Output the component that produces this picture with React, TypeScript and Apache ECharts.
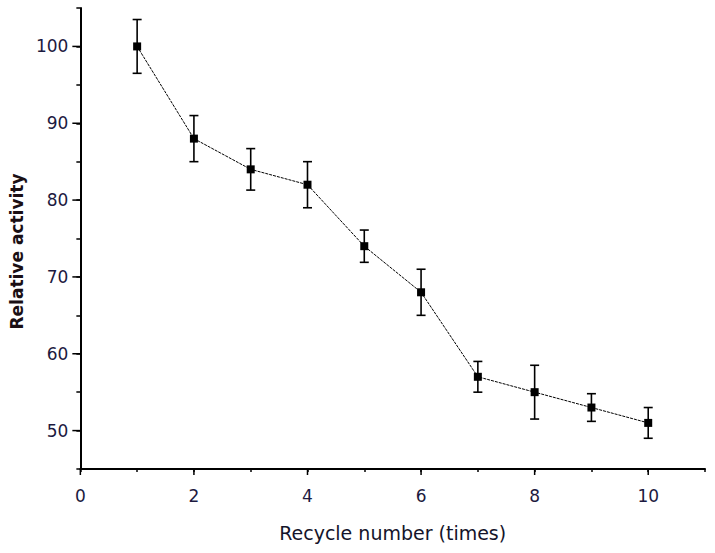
import React, { useEffect, useRef } from "react";
import * as echarts from "echarts";

const cycles = [1, 2, 3, 4, 5, 6, 7, 8, 9, 10];
const activity = [100, 88, 84, 82, 74, 68, 57, 55, 53, 51];
const errors = [3.5, 3, 2.7, 3, 2.1, 3, 2, 3.5, 1.8, 2];
const yLabelValues = [50, 60, 70, 80, 90, 100];
const xLabelValues = [0, 2, 4, 6, 8, 10];

const X_MIN = 0;
const X_MAX = 11;
const Y_MIN = 45;
const Y_MAX = 105;

export default function App() {
  const ref = useRef<HTMLDivElement>(null);
  useEffect(() => {
    if (!ref.current) return;
    const chart = echarts.init(ref.current, null, { renderer: "svg" });
    const labelColor = "#1c1a40";
    const font = "'DejaVu Sans', Verdana, sans-serif";
    const errData = cycles.map((c, i) => [c, activity[i] - errors[i], activity[i] + errors[i]]);
    const tickStyle = { stroke: "#000", lineWidth: 1.5 };
    chart.setOption({
      animation: false,
      grid: { left: 79, top: 8, right: 10, bottom: 84, containLabel: false },
      xAxis: {
        type: "value",
        min: X_MIN,
        max: X_MAX,
        interval: 1,
        name: "Recycle number (times)",
        nameLocation: "middle",
        nameGap: 54,
        nameTextStyle: { fontFamily: font, fontSize: 19, color: "#14142a" },
        axisLine: { show: true, onZero: false, lineStyle: { color: "#000", width: 2 } },
        axisTick: { show: true, inside: false, length: 3, lineStyle: { color: "#000", width: 1.5 } },
        axisLabel: {
          show: true,
          margin: 18,
          fontFamily: font,
          fontSize: 17,
          color: labelColor,
          formatter: (v: number) => (xLabelValues.includes(v) ? String(v) : ""),
        },
        splitLine: { show: false },
      },
      yAxis: {
        type: "value",
        min: Y_MIN,
        max: Y_MAX,
        interval: 5,
        name: "Relative activity",
        nameLocation: "middle",
        nameGap: 51,
        nameTextStyle: { fontFamily: font, fontSize: 17, fontWeight: "bold", color: "#1a0f14", padding: [0, 26, 0, 0] },
        axisLine: { show: true, onZero: false, lineStyle: { color: "#000", width: 2 } },
        axisTick: { show: true, inside: false, length: 4, lineStyle: { color: "#000", width: 1.5 } },
        axisLabel: {
          show: true,
          margin: 12,
          fontFamily: font,
          fontSize: 17,
          color: labelColor,
          formatter: (v: number) => (yLabelValues.includes(v) ? String(v) : ""),
        },
        splitLine: { show: false },
      },
      series: [
        {
          type: "line",
          data: cycles.map((c, i) => [c, activity[i]]),
          symbol: "rect",
          symbolSize: 8,
          itemStyle: { color: "#000" },
          lineStyle: { color: "#000", width: 1, type: [3, 1] },
          z: 3,
        },
        {
          type: "custom",
          data: errData,
          z: 2,
          renderItem: (params: any, api: any) => {
            const x = api.value(0);
            const lo = api.coord([x, api.value(1)]);
            const hi = api.coord([x, api.value(2)]);
            const half = 4.5;
            const st = { stroke: "#000", lineWidth: 1.6 };
            return {
              type: "group",
              children: [
                { type: "line", shape: { x1: lo[0], y1: lo[1], x2: hi[0], y2: hi[1] }, style: st },
                { type: "line", shape: { x1: lo[0] - half, y1: lo[1], x2: lo[0] + half, y2: lo[1] }, style: st },
                { type: "line", shape: { x1: hi[0] - half, y1: hi[1], x2: hi[0] + half, y2: hi[1] }, style: st },
              ],
            };
          },
        },
        {
          // major ticks on the y axis (longer)
          type: "custom",
          clip: false,
          silent: true,
          data: yLabelValues.map((v) => [X_MIN, v]),
          z: 4,
          renderItem: (params: any, api: any) => {
            const p = api.coord([api.value(0), api.value(1)]);
            return { type: "line", shape: { x1: p[0] - 8, y1: p[1], x2: p[0], y2: p[1] }, style: tickStyle };
          },
        },
        {
          // major ticks on the x axis (longer)
          type: "custom",
          clip: false,
          silent: true,
          data: xLabelValues.map((v) => [v, Y_MIN]),
          z: 4,
          renderItem: (params: any, api: any) => {
            const p = api.coord([api.value(0), api.value(1)]);
            return { type: "line", shape: { x1: p[0], y1: p[1], x2: p[0], y2: p[1] + 6 }, style: tickStyle };
          },
        },
      ],
    });
    return () => chart.dispose();
  }, []);
  return (
    <div
      ref={ref}
      style={{ position: "fixed", left: 0, top: 0, width: 715, height: 553, background: "#fff" }}
    />
  );
}
